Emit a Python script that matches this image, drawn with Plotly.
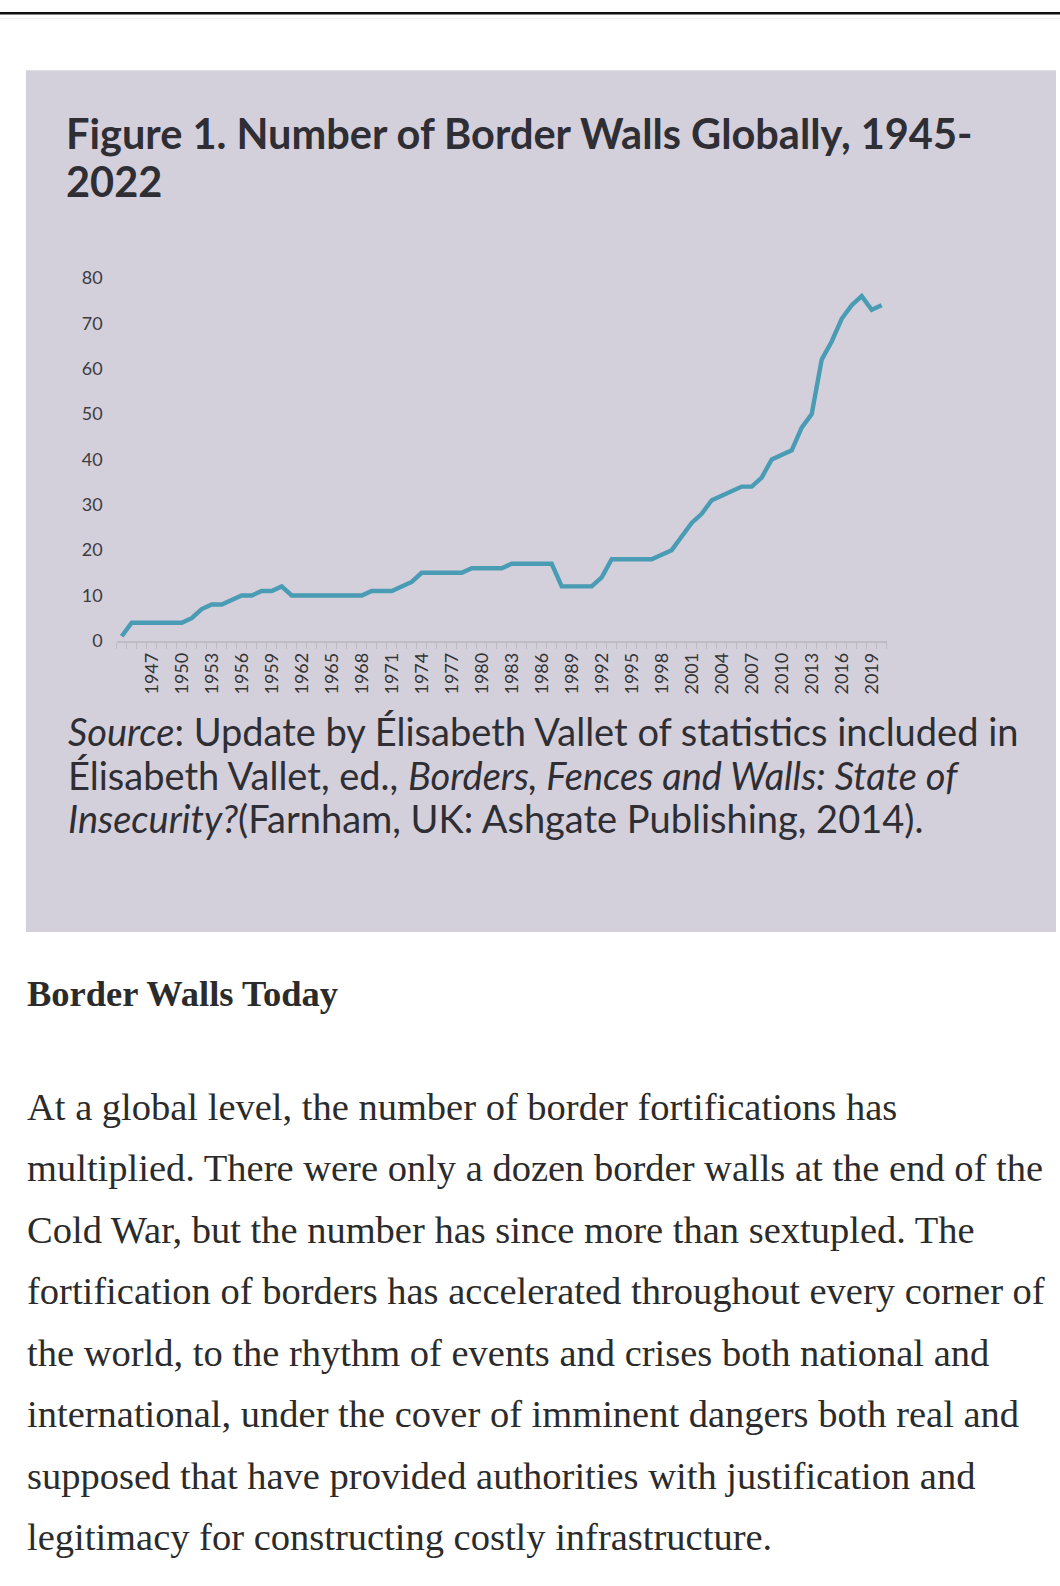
import plotly.graph_objects as go

W, H = 1060, 1586

# ---------------- data ----------------
years = list(range(1944, 2021))
walls = [1, 4, 4, 4, 4, 4, 4, 5, 7, 8,
         8, 9, 10, 10, 11, 11, 12, 10, 10, 10,
         10, 10, 10, 10, 10, 11, 11, 11, 12, 13,
         15, 15, 15, 15, 15, 16, 16, 16, 16, 17,
         17, 17, 17, 17, 12, 12, 12, 12, 14, 18,
         18, 18, 18, 18, 19, 20, 23, 26, 28, 31,
         32, 33, 34, 34, 36, 40, 41, 42, 47, 50,
         62, 66, 71, 74, 76, 73, 74]
x_tick_years = [1947, 1950, 1953, 1956, 1959, 1962, 1965, 1968, 1971, 1974,
                1977, 1980, 1983, 1986, 1989, 1992, 1995, 1998, 2001, 2004,
                2007, 2010, 2013, 2016, 2019]
y_ticks = [0, 10, 20, 30, 40, 50, 60, 70, 80]

title_lines = ["Figure 1. Number of Border Walls Globally, 1945-", "2022"]
source_lines = [
    "<i>Source</i>: Update by Élisabeth Vallet of statistics included in",
    "Élisabeth Vallet, ed., <i>Borders, Fences and Walls: State of</i>",
    "<i>Insecurity?</i>(Farnham, UK: Ashgate Publishing, 2014).",
]
heading = "<b>Border Walls Today</b>"
body_lines = [
    "At a global level, the number of border fortifications has",
    "multiplied. There were only a dozen border walls at the end of the",
    "Cold War, but the number has since more than sextupled. The",
    "fortification of borders has accelerated throughout every corner of",
    "the world, to the rhythm of events and crises both national and",
    "international, under the cover of imminent dangers both real and",
    "supposed that have provided authorities with justification and",
    "legitimacy for constructing costly infrastructure.",
]

# ---------------- helpers ----------------
def px(x):
    return x / W


def py(y):
    return 1 - y / H


PANEL = "#d3d0db"
LINE = "#4a9bb4"
TXT = "#303036"

fig = go.Figure()
fig.add_trace(go.Scatter(
    x=years, y=walls, mode="lines",
    line=dict(color=LINE, width=4.4),
    hoverinfo="x+y", showlegend=False,
))

plot_l, plot_r = 116.7, 886.7
plot_t, plot_b = 269.7, 637.7

fig.update_layout(
    width=W, height=H, autosize=False,
    margin=dict(l=0, r=0, t=0, b=0, pad=0),
    paper_bgcolor="white", plot_bgcolor=PANEL,
    font=dict(family="Lato", color=TXT),
    xaxis=dict(
        domain=[px(plot_l), px(plot_r)],
        range=[years[0] - 0.5, years[-1] + 0.5],
        tickmode="array", tickvals=x_tick_years,
        ticktext=[str(v) for v in x_tick_years],
        tickangle=-90, ticks="", ticklabelstandoff=3,
        tickfont=dict(family="Lato", size=18, color="#333333"),
        showgrid=False, zeroline=False,
        showline=True, linecolor="#bdbcc4", linewidth=1.5,
        minor=dict(ticks="outside", ticklen=6, tickwidth=1,
                   tickcolor="#bdbcc4", tick0=years[0] - 0.5, dtick=1,
                   showgrid=False),
        fixedrange=True,
    ),
    yaxis=dict(
        domain=[py(plot_b), py(plot_t)],
        range=[0, 80], tickmode="array", tickvals=y_ticks,
        ticks="", ticklabelstandoff=13,
        tickfont=dict(family="Lato", size=18, color="#3c3c42"),
        showgrid=False, zeroline=False, showline=False,
        fixedrange=True,
    ),
)

shapes = [
    # grey figure panel
    dict(type="rect", xref="paper", yref="paper", layer="below",
         x0=px(26), x1=px(1056), y0=py(933), y1=py(59),
         fillcolor=PANEL, line=dict(width=0)),
    # top rule of the page
    dict(type="rect", xref="paper", yref="paper", layer="below",
         x0=0, x1=1, y0=py(2.5), y1=1,
         fillcolor="#111111", line=dict(width=0)),
    dict(type="line", xref="paper", yref="paper", layer="below",
         x0=0, x1=1, y0=py(6.5), y1=py(6.5),
         line=dict(color="#f1f1f1", width=1)),
]
fig.update_layout(shapes=shapes)

annotations = []


def add_line(text, x, baseline, size, family, color, shift=0.36):
    annotations.append(dict(
        text=text, x=px(x), y=py(baseline - shift * size),
        xref="paper", yref="paper", xanchor="left", yanchor="middle",
        showarrow=False, align="left",
        font=dict(family=family, size=size, color=color),
    ))


for i, t in enumerate(title_lines):
    add_line("<b>" + t + "</b>", 64, 138 + i * 48, 41.5, "Lato", "#2e2e34")

for i, t in enumerate(source_lines):
    add_line(t, 66, 743 + i * 44, 38, "Lato", "#2e2e34")

add_line(heading, 25, 1008, 36.5, "Liberation Serif", "#2b2b2b")

for i, t in enumerate(body_lines):
    add_line(t, 25, 1124 + i * 62.4, 38.5, "Liberation Serif", "#2b2b2b")

fig.update_layout(annotations=annotations)

fig.write_html(
    "out.html", config=dict(displayModeBar=False),
    post_script=(
        "document.documentElement.style.margin='0px';"
        "document.documentElement.style.padding='0px';"
        "document.body.style.margin='0px';"
        "document.body.style.padding='0px';"
        "window.scrollTo(0,0);"
    ),
)
